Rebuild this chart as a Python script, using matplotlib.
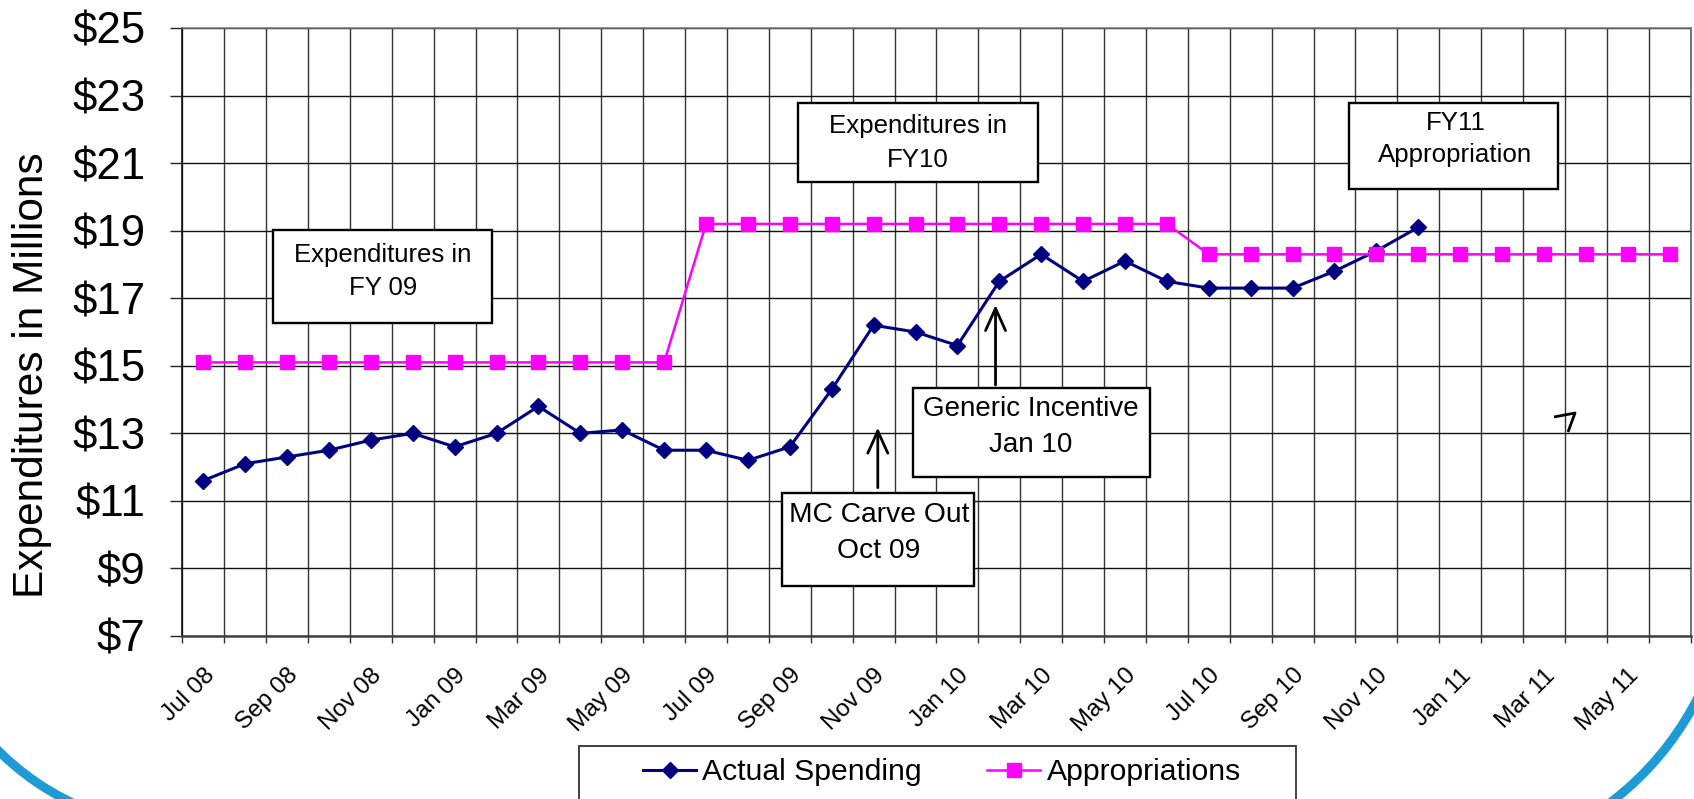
import numpy as np
import matplotlib
matplotlib.use('Agg')
import matplotlib.pyplot as plt
from matplotlib.patches import Rectangle, Arc
from matplotlib.lines import Line2D

plt.rcParams['font.family'] = ['Liberation Sans', 'DejaVu Sans']

# ---------------- data ----------------
months = ['Jul 08', 'Aug 08', 'Sep 08', 'Oct 08', 'Nov 08', 'Dec 08',
          'Jan 09', 'Feb 09', 'Mar 09', 'Apr 09', 'May 09', 'Jun 09',
          'Jul 09', 'Aug 09', 'Sep 09', 'Oct 09', 'Nov 09', 'Dec 09',
          'Jan 10', 'Feb 10', 'Mar 10', 'Apr 10', 'May 10', 'Jun 10',
          'Jul 10', 'Aug 10', 'Sep 10', 'Oct 10', 'Nov 10', 'Dec 10',
          'Jan 11', 'Feb 11', 'Mar 11', 'Apr 11', 'May 11', 'Jun 11']
actual_spending = [11.6, 12.1, 12.3, 12.5, 12.8, 13.0, 12.6, 13.0, 13.8, 13.0,
                   13.1, 12.5, 12.5, 12.2, 12.6, 14.3, 16.2, 16.0, 15.6, 17.5,
                   18.3, 17.5, 18.1, 17.5, 17.3, 17.3, 17.3, 17.8, 18.4, 19.1]
appropriations = [15.1, 15.1, 15.1, 15.1, 15.1, 15.1, 15.1, 15.1, 15.1, 15.1, 15.1, 15.1,
                  19.2, 19.2, 19.2, 19.2, 19.2, 19.2, 19.2, 19.2, 19.2, 19.2, 19.2, 19.2,
                  18.3, 18.3, 18.3, 18.3, 18.3, 18.3, 18.3, 18.3, 18.3, 18.3, 18.3, 18.3]
y_ticks = [7, 9, 11, 13, 15, 17, 19, 21, 23, 25]
y_tick_labels = ['$7', '$9', '$11', '$13', '$15', '$17', '$19', '$21', '$23', '$25']
series_names = ['Actual Spending', 'Appropriations']

# ---------------- layout ----------------
W, H = 1694, 799
fig = plt.figure(figsize=(W / 100, H / 100), dpi=100)
fig.patch.set_facecolor('white')
AX_L, AX_R, AX_T, AX_B = 182.3, 1690.6, 28.0, 636.0
ax = fig.add_axes([AX_L / W, 1 - AX_B / H, (AX_R - AX_L) / W, (AX_B - AX_T) / H])


def axfrac(px, py):
    return (px - AX_L) / (AX_R - AX_L), (AX_B - py) / (AX_B - AX_T)


xpos = np.arange(len(months)) + 0.5
ax.plot(xpos[:len(actual_spending)], actual_spending, color='#000080', lw=2.2,
        marker='D', ms=7.8, mfc='#000080', mec='#000080', mew=1, zorder=3,
        label=series_names[0])
ax.plot(xpos, appropriations, color='#FF00FF', lw=1.8, marker='s', ms=10.5,
        mfc='#FF00FF', mec='#FF00FF', mew=1, zorder=4, label=series_names[1])

ax.set_xlim(0, len(months))
ax.set_ylim(y_ticks[0], y_ticks[-1])

ax.set_xticks(np.arange(0, len(months) + 1))
ax.set_xticklabels([])
ax.set_xticks(xpos[::2], months[::2], minor=True)
ax.tick_params(axis='x', which='major', length=5, width=1.0, color='#333333', direction='out')
ax.tick_params(axis='x', which='minor', length=0, pad=20.5, labelsize=17.5)
for lbl in ax.get_xticklabels(minor=True):
    lbl.set_rotation(45)
    lbl.set_ha('right')
    lbl.set_va('top')
    lbl.set_rotation_mode('anchor')

ax.set_yticks(y_ticks, y_tick_labels)
ax.tick_params(axis='y', length=8.6, width=1.0, color='#222222', pad=18, labelsize=31.5)

ax.grid(True, axis='x', which='major', color='#333333', lw=1.0, zorder=1)
ax.grid(True, axis='y', which='major', color='#111111', lw=1.0, zorder=1)
ax.set_axisbelow(True)

ax.spines['left'].set_color('#111111')
ax.spines['left'].set_linewidth(1.2)
ax.spines['bottom'].set_color('#404040')
ax.spines['bottom'].set_linewidth(1.8)
ax.spines['top'].set_color('#777777')
ax.spines['top'].set_linewidth(1.1)
ax.spines['right'].set_color('#555555')
ax.spines['right'].set_linewidth(1.1)

fig.text(32 / W, 1 - 375.5 / H, 'Expenditures in Millions', rotation=90,
         ha='center', va='center', fontsize=30.5)

# ---------------- annotation boxes ----------------
boxes = [  # (left, top, right, bottom) in pixels
    (273, 230, 492, 323),
    (797.7, 103.3, 1037.7, 182.3),
    (1349, 103.3, 1558, 189.3),
    (913, 387.7, 1150, 476.7),
    (782.3, 493.3, 974, 586),
]
for (l, t, r, b) in boxes:
    x0, y0 = axfrac(l, b)
    x1, y1 = axfrac(r, t)
    ax.add_patch(Rectangle((x0, y0), x1 - x0, y1 - y0, transform=ax.transAxes,
                           facecolor='white', edgecolor='black', lw=1.7, zorder=6))

texts = [  # (text, center x px, cap-center y px, fontsize)
    ('Expenditures in', 383, 252.5, 18.5),
    ('FY 09', 383, 286.3, 18.5),
    ('Expenditures in', 918, 124.2, 18.6),
    ('FY10', 918, 158, 18.6),
    ('FY11', 1455.5, 120.3, 18.6),
    ('Appropriation', 1455.5, 152.5, 18.6),
    ('Generic Incentive', 1030.8, 406.3, 20),
    ('Jan 10', 1030.8, 441.7, 20),
    ('MC Carve Out', 879, 511.7, 20.3),
    ('Oct 09', 879, 548.3, 20.3),
]
for (s, cx, cy, fs) in texts:
    base = cy + 0.716 * fs * 100 / 72 / 2
    xf, yf = axfrac(cx, base)
    ax.text(xf, yf, s, transform=ax.transAxes, ha='center', va='baseline',
            fontsize=fs, zorder=7)

# arrows (data coordinates: month index, $ millions)
arrows = [((19.41, 14.43), (19.41, 16.80)),
          ((16.60, 11.39), (16.60, 13.17))]
for tail, tip in arrows:
    ax.annotate('', xy=tip, xytext=tail,
                arrowprops=dict(arrowstyle='->,head_length=0.8,head_width=0.36',
                                lw=2.0, color='black', mutation_scale=20,
                                shrinkA=0, shrinkB=0), zorder=7)

# small stray arrow head
pts = [axfrac(1554, 417), axfrac(1575, 413), axfrac(1568, 432)]
ax.add_line(Line2D([p[0] for p in pts], [p[1] for p in pts], transform=ax.transAxes,
                   color='black', lw=2.0, zorder=7, solid_capstyle='butt'))

# ---------------- legend ----------------
fig.add_artist(Rectangle((579 / W, 1 - 808 / H), (1296 - 579) / W, (808 - 746) / H,
                         transform=fig.transFigure, facecolor='white',
                         edgecolor='#333333', lw=1.3, zorder=5))
leg = fig.legend(loc='center left', bbox_to_anchor=(643 / W, 1 - 772.5 / H),
                 bbox_transform=fig.transFigure, ncol=2, frameon=False,
                 fontsize=21.7, handlelength=1.76, handletextpad=0.2,
                 columnspacing=2.18, borderpad=0, borderaxespad=0)
leg.set_zorder(6)

# ---------------- slide decoration arcs ----------------
fig.add_artist(Arc((188 / 100, (H - 560) / 100), 2 * 2.69, 2 * 2.69, theta1=210, theta2=262,
                   transform=fig.dpi_scale_trans, color='#1E9BD7', lw=6.5))
fig.add_artist(Arc((1426 / 100, (H - 560) / 100), 2 * 3.047, 2 * 3.047, theta1=-60, theta2=-15,
                   transform=fig.dpi_scale_trans, color='#1E9BD7', lw=6.5))

fig.savefig('out.png', dpi=100)
